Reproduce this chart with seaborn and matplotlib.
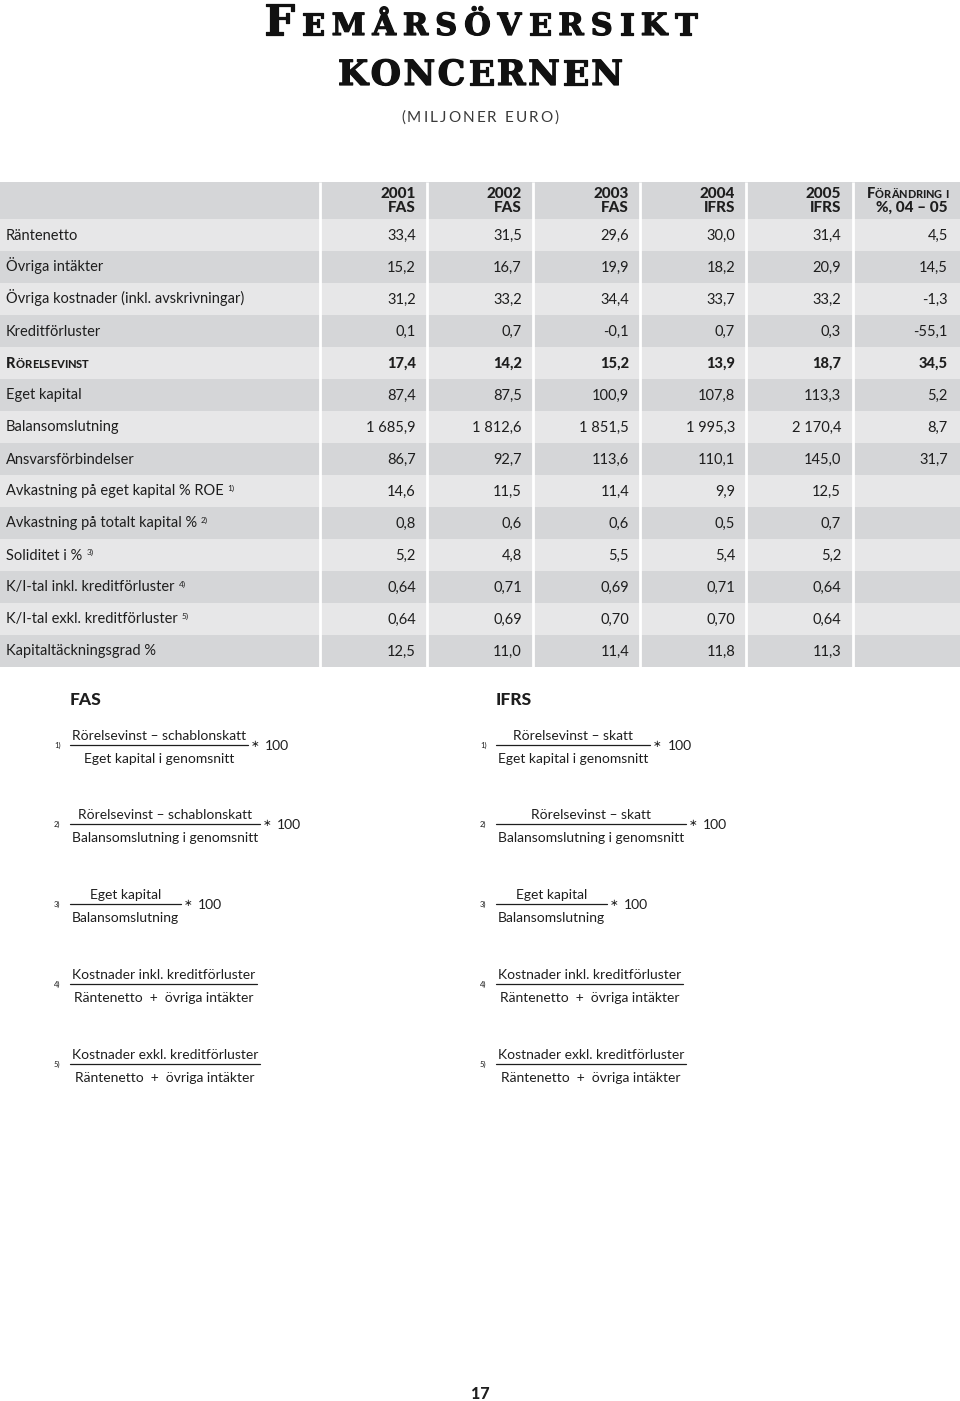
import matplotlib
matplotlib.use("Agg")
import matplotlib.pyplot as plt
import matplotlib.patheffects as pe
import seaborn as sns

# ---- data ----
row_labels = ["Räntenetto", "Övriga intäkter", "Övriga kostnader (inkl. avskrivningar)",
              "Kreditförluster", "Rörelsevinst", "Eget kapital", "Balansomslutning",
              "Ansvarsförbindelser", "Avkastning på eget kapital % ROE",
              "Avkastning på totalt kapital %", "Soliditet i %",
              "K/I-tal inkl. kreditförluster", "K/I-tal exkl. kreditförluster",
              "Kapitaltäckningsgrad %"]
row_notes = ["", "", "", "", "", "", "", "", "1)", "2)", "3)", "4)", "5)", ""]
decimals = [1, 1, 1, 1, 1, 1, 1, 1, 1, 1, 1, 2, 2, 1]
years = ["2001", "2002", "2003", "2004", "2005"]
standards = ["FAS", "FAS", "FAS", "IFRS", "IFRS"]
v2001 = [33.4, 15.2, 31.2, 0.1, 17.4, 87.4, 1685.9, 86.7, 14.6, 0.8, 5.2, 0.64, 0.64, 12.5]
v2002 = [31.5, 16.7, 33.2, 0.7, 14.2, 87.5, 1812.6, 92.7, 11.5, 0.6, 4.8, 0.71, 0.69, 11.0]
v2003 = [29.6, 19.9, 34.4, -0.1, 15.2, 100.9, 1851.5, 113.6, 11.4, 0.6, 5.5, 0.69, 0.70, 11.4]
v2004 = [30.0, 18.2, 33.7, 0.7, 13.9, 107.8, 1995.3, 110.1, 9.9, 0.5, 5.4, 0.71, 0.70, 11.8]
v2005 = [31.4, 20.9, 33.2, 0.3, 18.7, 113.3, 2170.4, 145.0, 12.5, 0.7, 5.2, 0.64, 0.64, 11.3]
change = [4.5, 14.5, -1.3, -55.1, 34.5, 5.2, 8.7, 31.7, None, None, None, None, None, None]

note_ids = ["1)", "2)", "3)", "4)", "5)"]
fas_num = ["Rörelsevinst – schablonskatt", "Rörelsevinst – schablonskatt", "Eget kapital",
           "Kostnader inkl. kreditförluster", "Kostnader exkl. kreditförluster"]
ifrs_num = ["Rörelsevinst – skatt", "Rörelsevinst – skatt", "Eget kapital",
            "Kostnader inkl. kreditförluster", "Kostnader exkl. kreditförluster"]
denoms = ["Eget kapital i genomsnitt", "Balansomslutning i genomsnitt", "Balansomslutning",
          "Räntenetto  +  övriga intäkter", "Räntenetto  +  övriga intäkter"]
times100 = [True, True, True, False, False]

# ---- setup ----
sns.set_theme(style="white")
plt.rcParams['font.family'] = ['Lato', 'DejaVu Sans']
W, H = 960, 1401
fig = plt.figure(figsize=(9.6, 14.01), dpi=100)
ax = fig.add_axes([0, 0, 1, 1])
ax.set_xlim(0, W)
ax.set_ylim(H, 0)
ax.axis('off')
renderer = fig.canvas.get_renderer()
TXT = '#1e1e1e'


def wid(t):
    return t.get_window_extent(renderer).width


def runs(x, y, parts, ha='left', track=0.0, fit=None, **kw):
    """draw text pieces of different sizes (small caps), char by char"""
    items = []
    for s, size in parts:
        for c in s:
            t = ax.text(0, y, c, fontsize=size, va='baseline', ha='left', **kw)
            items.append((t, c, size))
    ws = [size * 0.35 if c == ' ' else wid(t) for t, c, size in items]
    natural = sum(ws)
    if fit is not None:
        track = (fit - natural) / (len(items) - 1)
    total = natural + track * (len(items) - 1)
    start = x if ha == 'left' else (x - total if ha == 'right' else x - total / 2)
    for (t, c, size), w in zip(items, ws):
        t.set_x(start)
        start += w + track
    return total


def fmt(v, d):
    if v is None:
        return ""
    s = f"{v:,.{d}f}"
    return s.replace(",", " ").replace(".", ",")


# ---- title ----
heavy = [pe.withStroke(linewidth=0.9, foreground='#111111')]
serif = dict(family='DejaVu Serif', fontweight='bold', color='#111111', path_effects=heavy)
runs(264, 35, [("F", 31), ("EMÅRSÖVERSIKT", 22)], fit=697 - 264, **serif)
runs(338, 85, [("KONCERNEN", 25)], fit=623 - 338, **serif)
runs(401, 122, [("(MILJONER EURO)", 11)], fit=158, color='#3a3a3a')

# ---- table ----
top, head_h, row_h = 182, 37, 32
n = len(row_labels)
centers = [top + head_h / 2] + [top + head_h + row_h * i + row_h / 2 for i in range(n)]
heights = [head_h] + [row_h] * n
light, dark = '#e7e7e8', '#d5d6d8'
shades = [dark] + [light if i % 2 == 0 else dark for i in range(n)]
ax.barh(centers, [W] * (n + 1), left=0, height=heights, color=shades, linewidth=0)
bottom = top + head_h + row_h * n
seps = [320, 426.5, 533, 639.5, 746, 852.5]
ax.vlines(seps, top, bottom, color='white', lw=2)

FS = 10.5
col_right = [416, 522, 629, 735, 841, 948]
for j, (yr, st) in enumerate(zip(years, standards)):
    ax.text(col_right[j], 198, yr, ha='right', va='baseline', fontsize=11,
            fontweight='black', color=TXT)
    ax.text(col_right[j], 212, st, ha='right', va='baseline', fontsize=11,
            fontweight='black', color=TXT)
runs(col_right[5], 198, [("F", 10.5), ("ÖRÄNDRING I", 7.8)], ha='right',
     fontweight='black', color=TXT)
ax.text(col_right[5], 212, "%, 04 – 05", ha='right', va='baseline', fontsize=11,
        fontweight='black', color=TXT)

cols = [v2001, v2002, v2003, v2004, v2005, change]
for i, lab in enumerate(row_labels):
    yb = top + head_h + row_h * i + row_h / 2 + 4.5
    bold = (lab == "Rörelsevinst")
    if bold:
        runs(6, yb, [("R", 10.5), ("ÖRELSEVINST", 8)], fontweight='black', color=TXT)
    else:
        t = ax.text(6, yb, lab, ha='left', va='baseline', fontsize=FS, color=TXT)
        if row_notes[i]:
            ax.text(6 + wid(t) + 4, yb - 5, row_notes[i], ha='left', va='baseline',
                    fontsize=6, color=TXT)
    for j, col in enumerate(cols):
        ax.text(col_right[j], yb, fmt(col[i], decimals[i]), ha='right', va='baseline',
                fontsize=FS, color=TXT, fontweight='black' if bold else 'normal')

# ---- formulas ----
ax.text(70, 705, "FAS", ha='left', va='baseline', fontsize=12.5, fontweight='black', color=TXT)
ax.text(496, 705, "IFRS", ha='left', va='baseline', fontsize=12.5, fontweight='black', color=TXT)
line_y = [745, 824, 904, 984, 1064]
fs = 10
for k in range(len(note_ids)):
    ly = line_y[k]
    for x0, num in [(70, fas_num[k]), (496, ifrs_num[k])]:
        tn = ax.text(0, ly - 5, num, ha='center', va='baseline', fontsize=fs, color=TXT)
        td = ax.text(0, ly + 18, denoms[k], ha='center', va='baseline', fontsize=fs, color=TXT)
        L = max(wid(tn), wid(td)) + 4
        tn.set_x(x0 + L / 2)
        td.set_x(x0 + L / 2)
        ax.plot([x0, x0 + L], [ly, ly], color=TXT, lw=0.9)
        ax.text(x0 - 16, ly + 3, note_ids[k], ha='left', va='baseline', fontsize=5.5, color=TXT)
        if times100[k]:
            ax.text(x0 + L + 7, ly - 1, "∗", ha='center', va='center', fontsize=7.5,
                    family='DejaVu Sans', color=TXT)
            ax.text(x0 + L + 17, ly + 5, "100", ha='left', va='baseline', fontsize=fs, color=TXT)

ax.text(480, 1399, "17", ha='center', va='baseline', fontsize=11.5, fontweight='black', color=TXT)

fig.savefig("out.png", dpi=100)
